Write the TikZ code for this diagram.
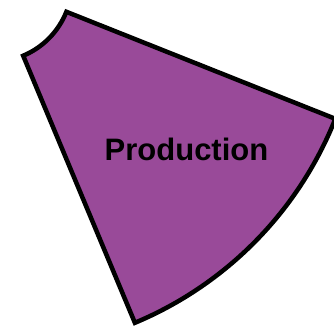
\documentclass[tikz,border=0pt]{standalone}
\usepackage{fontspec}
\setmainfont{Liberation Sans}
\definecolor{prodpurple}{RGB}{153,74,153}
\tikzset{
  sector/.style={fill=prodpurple, draw=black, line width=4.5pt, line join=miter},
  sectorlabel/.style={font=\bfseries\fontsize{31}{31}\selectfont, text=black, inner sep=0pt, anchor=base}
}
\begin{document}
\begin{tikzpicture}[x=1pt,y=1pt]
\useasboundingbox (0,0) rectangle (334,332);
\coordinate (C) at (-7.5,349.6);
\draw[sector] ([shift={(-21.7:369)}]C) arc[start angle=-21.7, end angle=-67.3, radius=369]
  -- ([shift={(-67.3:79.5)}]C) arc[start angle=-67.3, end angle=-21.7, radius=79.5] -- cycle;
\node[sectorlabel] (label) at (186.5,171) {Production};
\end{tikzpicture}
\end{document}
